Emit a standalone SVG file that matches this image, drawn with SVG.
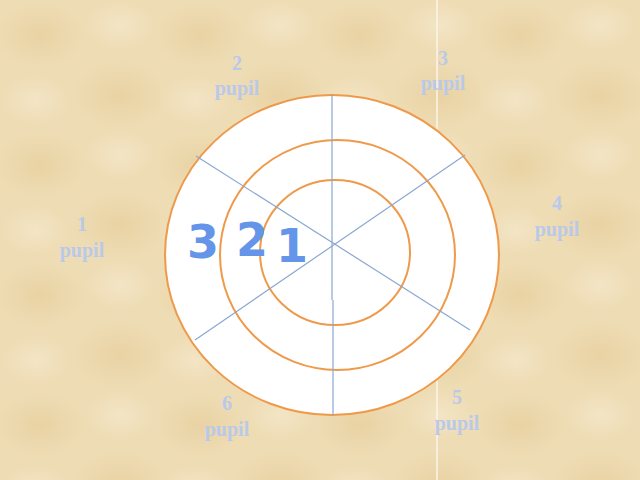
<svg xmlns="http://www.w3.org/2000/svg" width="640" height="480" viewBox="0 0 640 480">
<defs>
<radialGradient id="blot" cx="50%" cy="50%" r="50%">
<stop offset="0" stop-color="#e3c790" stop-opacity="0.45"/>
<stop offset="1" stop-color="#e3c790" stop-opacity="0"/>
</radialGradient>
<radialGradient id="lite" cx="50%" cy="50%" r="50%">
<stop offset="0" stop-color="#f6ead0" stop-opacity="0.6"/>
<stop offset="1" stop-color="#f6ead0" stop-opacity="0"/>
</radialGradient>
<pattern id="paper" width="160" height="130" patternUnits="userSpaceOnUse">
<rect width="160" height="130" fill="#eedcb4"/>
<ellipse cx="40" cy="35" rx="45" ry="32" fill="url(#blot)"/>
<ellipse cx="120" cy="95" rx="48" ry="34" fill="url(#blot)"/>
<ellipse cx="120" cy="25" rx="35" ry="25" fill="url(#lite)"/>
<ellipse cx="35" cy="100" rx="35" ry="25" fill="url(#lite)"/>
</pattern>
<style>
.ring{fill:none;stroke:#ee9a4a;stroke-width:2}
.spoke{stroke:#8aa8d0;stroke-width:1.2;fill:none}
.lbl{font-family:"Liberation Serif",serif;font-weight:bold;font-size:20px;fill:#b9c9ea;text-anchor:middle}
.big{font-family:"DejaVu Sans",sans-serif;font-weight:bold;font-size:46px;fill:#6495e8;text-anchor:middle}
</style>
</defs>
<rect width="640" height="480" fill="url(#paper)"/>
<line x1="437" y1="0" x2="437" y2="480" stroke="#fbf5e8" stroke-width="1.5"/>
<g id="target">
<ellipse cx="332" cy="255" rx="167" ry="160" style="fill:#ffffff" class="ring"/>
<ellipse cx="337.5" cy="255" rx="117.5" ry="115" class="ring"/>
<ellipse cx="335" cy="252.5" rx="75" ry="72.5" class="ring"/>
</g>
<g id="connectors">
<line class="spoke" x1="332" y1="95" x2="332" y2="300"/>
<line class="spoke" x1="333" y1="300" x2="333" y2="415"/>
<line class="spoke" x1="196" y1="156" x2="470" y2="330"/>
<line class="spoke" x1="465" y1="155" x2="195" y2="340"/>
</g>
<g id="rings-labels">
<text class="big" x="203" y="258">3</text>
<text class="big" x="252" y="256">2</text>
<text class="big" x="292" y="262">1</text>
</g>
<g id="pupil1"><text class="lbl" x="82" y="231">1</text><text class="lbl" x="82" y="257">pupil</text></g>
<g id="pupil2"><text class="lbl" x="237" y="70">2</text><text class="lbl" x="237" y="95">pupil</text></g>
<g id="pupil3"><text class="lbl" x="443" y="65">3</text><text class="lbl" x="443" y="90">pupil</text></g>
<g id="pupil4"><text class="lbl" x="557" y="210">4</text><text class="lbl" x="557" y="236">pupil</text></g>
<g id="pupil5"><text class="lbl" x="457" y="404">5</text><text class="lbl" x="457" y="430">pupil</text></g>
<g id="pupil6"><text class="lbl" x="227" y="410">6</text><text class="lbl" x="227" y="436">pupil</text></g>
</svg>
